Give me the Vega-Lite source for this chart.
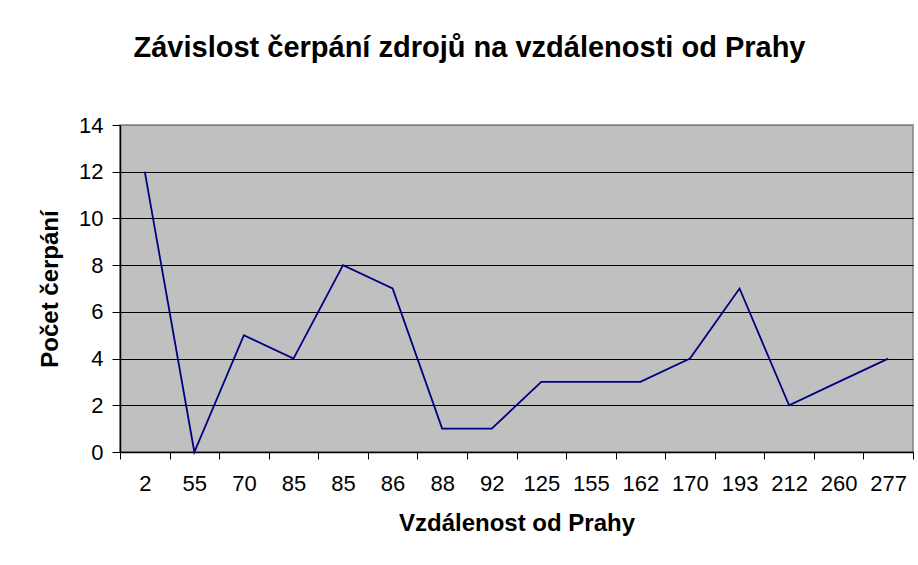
{
  "$schema": "https://vega.github.io/schema/vega-lite/v6.json",
  "width": 793,
  "height": 327,
  "autosize": {"type": "none"},
  "padding": {"left": 120, "top": 125, "right": 5, "bottom": 113},
  "background": "white",
  "title": {
    "text": "Závislost čerpání zdrojů na vzdálenosti od Prahy",
    "font": "Liberation Sans",
    "fontSize": 29,
    "fontWeight": "bold",
    "color": "black",
    "anchor": "middle",
    "frame": "group",
    "dx": -47,
    "baseline": "alphabetic",
    "offset": 28
  },
  "data": {
    "values": [
      {"d": "2", "n": 12},
      {"d": "55", "n": 0},
      {"d": "70", "n": 5},
      {"d": "85", "n": 4},
      {"d": "85 ", "n": 8},
      {"d": "86", "n": 7},
      {"d": "88", "n": 1},
      {"d": "92", "n": 1},
      {"d": "125", "n": 3},
      {"d": "155", "n": 3},
      {"d": "162", "n": 3},
      {"d": "170", "n": 4},
      {"d": "193", "n": 7},
      {"d": "212", "n": 2},
      {"d": "260", "n": 3},
      {"d": "277", "n": 4}
    ]
  },
  "mark": {"type": "line", "color": "#000080", "strokeWidth": 1.8},
  "encoding": {
    "x": {
      "field": "d",
      "type": "nominal",
      "sort": null,
      "scale": {"type": "band", "paddingInner": 0, "paddingOuter": 0},
      "axis": {
        "title": "Vzdálenost od Prahy",
        "labelExpr": "trim(datum.label)",
        "labelAngle": 0,
        "labelFont": "Liberation Sans",
        "labelFontSize": 22,
        "labelColor": "black",
        "labelPadding": 14,
        "tickBand": "extent",
        "tickSize": 7,
        "tickColor": "black",
        "domainColor": "black",
        "domainWidth": 1.5,
        "grid": false,
        "titleFont": "Liberation Sans",
        "titleFontSize": 24,
        "titleFontWeight": "bold",
        "titleColor": "black",
        "titlePadding": 17
      }
    },
    "y": {
      "field": "n",
      "type": "quantitative",
      "scale": {"domain": [0, 14], "nice": false, "zero": true},
      "axis": {
        "title": "Počet čerpání",
        "values": [0, 2, 4, 6, 8, 10, 12, 14],
        "labelFont": "Liberation Sans",
        "labelFontSize": 22,
        "labelColor": "black",
        "labelPadding": 9,
        "tickSize": 8,
        "tickColor": "black",
        "domainColor": "black",
        "domainWidth": 1.5,
        "grid": true,
        "gridColor": {"condition": {"test": "datum.value == 14", "value": "#808080"}, "value": "black"},
        "gridWidth": 1,
        "gridOpacity": 1,
        "titleFont": "Liberation Sans",
        "titleFontSize": 24,
        "titleFontWeight": "bold",
        "titleColor": "black",
        "titlePadding": 16
      }
    }
  },
  "config": {
    "view": {"fill": "#C0C0C0", "stroke": "#808080", "strokeWidth": 1.5}
  }
}
